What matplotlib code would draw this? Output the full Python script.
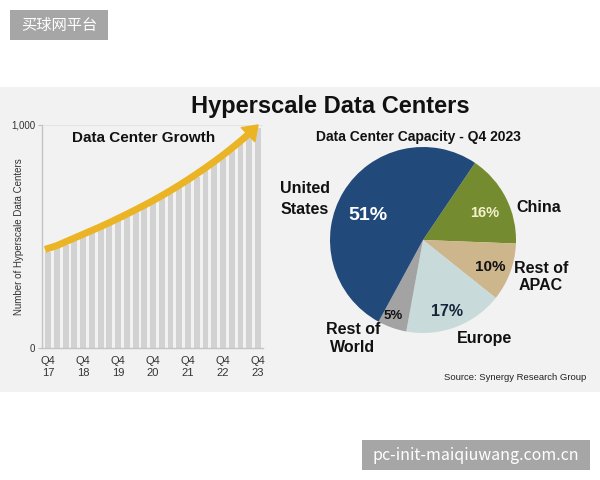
import matplotlib
matplotlib.use("Agg")
import matplotlib.pyplot as plt
from matplotlib.patches import Rectangle
import numpy as np

# --- data -------------------------------------------------------------
quarters = np.arange(25)  # Q4 2017 .. Q4 2023
dc_counts = [430, 447, 464, 481, 498, 515, 532, 550, 569, 588, 608, 628,
             649, 671, 694, 718, 743, 769, 796, 824, 853, 884, 916, 950, 985]
tick_pos = [0, 4, 8, 12, 16, 20, 24]
tick_labels = ["Q4\n17", "Q4\n18", "Q4\n19", "Q4\n20", "Q4\n21", "Q4\n22", "Q4\n23"]

regions = ["China", "Rest of\nAPAC", "Europe", "Rest of\nWorld", "United\nStates"]
shares = [16, 10, 17, 5, 51]
colors = ["#748c2f", "#cdb68c", "#c8dbda", "#a3a3a3", "#21497a"]

W, H = 600, 480
GOLD = "#eab424"
FONT = "Liberation Sans"

fig = plt.figure(figsize=(6, 4.8), dpi=100)
fig.patch.set_facecolor("white")

def fx(px):
    return px / W

def fy(py):
    return 1 - py / H

# grey panel behind everything
fig.patches.append(Rectangle((0, fy(392)), 1, (392 - 87) / H,
                             transform=fig.transFigure, facecolor="#f2f2f2",
                             edgecolor="none", zorder=-5))

fig.text(fx(330), fy(106), "Hyperscale Data Centers", ha="center", va="center",
         fontsize=17, fontweight="bold", family=FONT, color="#111111")

# --- bar chart --------------------------------------------------------
ax = fig.add_axes([fx(42), fy(348), (263 - 42) / W, (348 - 125) / H])
ax.set_facecolor("none")
ax.bar(quarters, dc_counts, width=0.68, color="#d2d2d2", zorder=1)
ax.set_xlim(-0.69, 24.57)
ax.set_ylim(0, 1000)
ax.set_xticks(tick_pos)
ax.set_xticklabels(tick_labels, fontsize=8, family=FONT, color="#333333",
                   linespacing=1.25)
ax.set_yticks([0, 1000])
ax.set_yticklabels(["0", "1,000"], fontsize=7, family=FONT, color="#333333")
ax.tick_params(axis="x", length=0, pad=6)
ax.tick_params(axis="y", length=3, color="#c0c0c0", pad=2)
for side in ["top", "right"]:
    ax.spines[side].set_visible(False)
for side in ["left", "bottom"]:
    ax.spines[side].set_color("#c4c4c4")
    ax.spines[side].set_linewidth(1)
ax.axhline(1000, color="#e4e4e4", linewidth=0.8, zorder=0)
ax.set_ylabel("Number of Hyperscale Data Centers", fontsize=7, family=FONT,
              color="#333333")
ax.yaxis.set_label_coords(-0.082, 0.5)
ax.text(0.46, 0.94, "Data Center Growth", transform=ax.transAxes, ha="center",
        va="center", fontsize=11, fontweight="bold", family=FONT, color="#111111")

# growth arrow riding on top of the bars
arrow_x = quarters.astype(float)
arrow_y = np.array(dc_counts, dtype=float) + 12
arrow_x[0] = -0.35
ax.plot(arrow_x[:-1], arrow_y[:-1], color=GOLD, linewidth=5,
        solid_capstyle="butt", zorder=3)
ax.annotate("", xy=(arrow_x[-1], 1000), xytext=(arrow_x[-2], arrow_y[-2]),
            arrowprops=dict(arrowstyle="simple,head_length=1.0,head_width=1.4,tail_width=0.55",
                            color=GOLD, mutation_scale=10, shrinkA=0, shrinkB=0),
            zorder=3, annotation_clip=False)

# --- pie chart --------------------------------------------------------
cx, cy, r = 423, 240, 93
pax = fig.add_axes([fx(cx - r), fy(cy + r), 2 * r / W, 2 * r / H])
pax.pie(shares, colors=colors, startangle=56, counterclock=False,
        wedgeprops=dict(linewidth=0))
pax.set_xlim(-1, 1)
pax.set_ylim(-1, 1)
pax.axis("off")

fig.text(fx(418), fy(137), "Data Center Capacity - Q4 2023", ha="center",
         va="center", fontsize=10, fontweight="bold", family=FONT, color="#111111")

pct_pos = [(485, 213), (490, 267), (447, 311), (393, 316), (368, 216)]
pct_size = [10.5, 11, 11.5, 9.5, 14]
pct_color = ["#f4f0cc", "#111111", "#15263a", "#111111", "white"]
name_pos = [(539, 208), (541, 277), (485, 338), (353, 339), (305, 199)]
name_spacing = [1.1, 1.2, 1.1, 1.25, 1.45]

for i, share in enumerate(shares):
    px, py = pct_pos[i]
    fig.text(fx(px), fy(py), f"{share}%", ha="center", va="center",
             fontsize=pct_size[i], fontweight="bold", family=FONT,
             color=pct_color[i])
    nx, ny = name_pos[i]
    fig.text(fx(nx), fy(ny), regions[i], ha="center", va="center",
             fontsize=11.5, fontweight="bold", family=FONT, color="#111111",
             linespacing=name_spacing[i])

fig.text(fx(586), fy(377), "Source: Synergy Research Group", ha="right",
         va="center", fontsize=6.8, family=FONT, color="#222222")

# --- watermarks -------------------------------------------------------
fig.patches.append(Rectangle((fx(10), fy(40)), 98 / W, 30 / H,
                             transform=fig.transFigure, facecolor="#a6a6a6",
                             edgecolor="none"))
fig.text(fx(59), fy(25), "买球网平台", ha="center", va="center", fontsize=11,
         family=["Noto Sans CJK SC", "DejaVu Sans"], color="white")
fig.patches.append(Rectangle((fx(362), fy(470)), 228 / W, 30 / H,
                             transform=fig.transFigure, facecolor="#a6a6a6",
                             edgecolor="none"))
fig.text(fx(476), fy(455), "pc-init-maiqiuwang.com.cn", ha="center",
         va="center", fontsize=11.5, family=["Noto Sans CJK SC", "DejaVu Sans"],
         color="white")

fig.savefig("out.png", dpi=100)
plt.close(fig)
